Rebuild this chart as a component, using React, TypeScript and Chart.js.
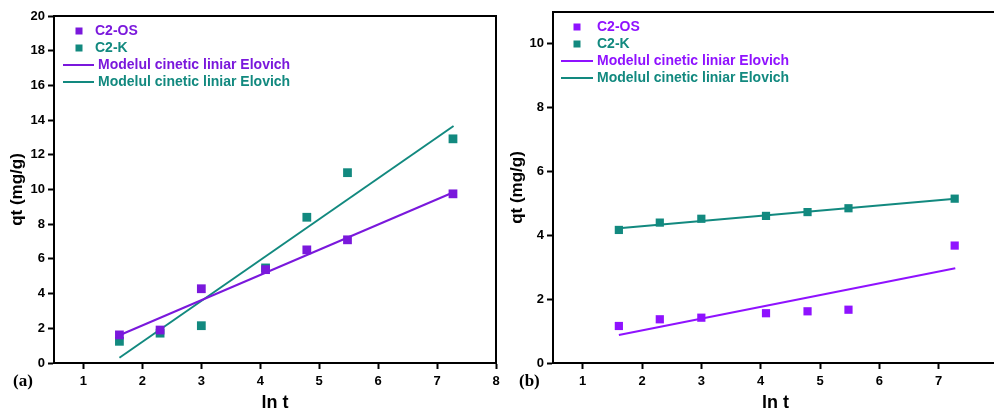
import React, { useEffect, useRef } from "react";
import { Chart, registerables } from "chart.js";

Chart.register(...registerables);

// ---------- data ----------
const lnT = [1.61, 2.3, 3.0, 4.09, 4.79, 5.48, 7.27];
const fitX = [1.61, 7.28];

const osA = [1.62, 1.9, 4.28, 5.38, 6.52, 7.1, 9.75];
const kA = [1.25, 1.72, 2.15, 5.48, 8.4, 10.97, 12.92];
const osFitA = [1.6, 9.84];
const kFitA = [0.3, 13.66];

const osB = [1.16, 1.37, 1.42, 1.56, 1.62, 1.67, 3.68];
const kB = [4.17, 4.4, 4.52, 4.61, 4.73, 4.85, 5.15];
const osFitB = [0.88, 2.97];
const kFitB = [4.22, 5.15];

const xTicks = [1, 2, 3, 4, 5, 6, 7, 8];
const yTicksA = [0, 2, 4, 6, 8, 10, 12, 14, 16, 18, 20];
const yTicksB = [0, 2, 4, 6, 8, 10];

const labelOS = "C2-OS";
const labelK = "C2-K";
const labelFit = "Modelul cinetic liniar Elovich";
const xTitle = "ln t";
const yTitle = "qt (mg/g)";

const TEAL = "#12897f";

const FONT = "'Liberation Sans', Arial, sans-serif";

const framePlugin = {
  id: "frame",
  afterDraw(chart: any) {
    const { ctx, chartArea } = chart;
    ctx.save();
    ctx.strokeStyle = "#000";
    ctx.lineWidth = 2;
    ctx.beginPath();
    ctx.moveTo(chartArea.left, chartArea.top);
    ctx.lineTo(chartArea.right, chartArea.top);
    ctx.lineTo(chartArea.right, chartArea.bottom);
    ctx.stroke();
    ctx.restore();
  },
};

const legendPlugin = {
  id: "elovLegend",
  afterDraw(chart: any, _args: any, opts: any) {
    const { ctx } = chart;
    const ds = chart.data.datasets;
    ctx.save();
    ctx.font = `bold ${opts.fontSize}px ${FONT}`;
    ctx.textBaseline = "middle";
    ds.forEach((d: any, i: number) => {
      const y = opts.y + i * opts.rowH;
      const color = d.borderColor;
      if (d.showLine) {
        ctx.strokeStyle = color;
        ctx.lineWidth = 2;
        ctx.beginPath();
        ctx.moveTo(opts.lineX0, y);
        ctx.lineTo(opts.lineX1, y);
        ctx.stroke();
        ctx.fillStyle = color;
        ctx.fillText(d.label, opts.lineText, y);
      } else {
        ctx.fillStyle = color;
        ctx.fillRect(opts.markX - 3.5, y - 3.5, 7, 7);
        ctx.fillText(d.label, opts.markText, y);
      }
    });
    ctx.restore();
  },
};

type PanelProps = {
  left: number;
  width: number;
  padTop: number;
  padRight: number;
  yAxisWidth: number;
  yMax: number;
  yTicks: number[];
  os: number[];
  k: number[];
  osFit: number[];
  kFit: number[];
  purple: string;
  pointR: number;
  legend: any;
};

function Panel(p: PanelProps) {
  const ref = useRef<HTMLCanvasElement | null>(null);
  useEffect(() => {
    if (!ref.current) return;
    const purple = p.purple;
    const pts = (ys: number[], xs: number[]) => xs.map((x, i) => ({ x, y: ys[i] }));
    const tickFont = { family: FONT, weight: "bold" as const, size: 13 };
    const chart = new Chart(ref.current, {
      type: "scatter",
      data: {
        datasets: [
          {
            label: labelOS,
            data: pts(p.os, lnT),
            borderColor: purple,
            backgroundColor: purple,
            pointStyle: "rect",
            pointRadius: p.pointR,
            pointBorderWidth: 0,
            showLine: false,
            order: 1,
          },
          {
            label: labelK,
            data: pts(p.k, lnT),
            borderColor: TEAL,
            backgroundColor: TEAL,
            pointStyle: "rect",
            pointRadius: p.pointR,
            pointBorderWidth: 0,
            showLine: false,
            order: 2,
          },
          {
            label: labelFit,
            data: pts(p.osFit, fitX),
            borderColor: purple,
            backgroundColor: purple,
            borderWidth: 2,
            pointRadius: 0,
            showLine: true,
            order: 3,
          },
          {
            label: labelFit,
            data: pts(p.kFit, fitX),
            borderColor: TEAL,
            backgroundColor: TEAL,
            borderWidth: 2,
            pointRadius: 0,
            showLine: true,
            order: 4,
          },
        ],
      },
      options: {
        animation: false,
        responsive: false,
        maintainAspectRatio: false,
        layout: { padding: { left: 0, right: p.padRight, top: p.padTop, bottom: 0 } },
        plugins: {
          legend: { display: false },
          tooltip: { enabled: false },
          elovLegend: p.legend,
        } as any,
        scales: {
          x: {
            type: "linear",
            min: 0.5,
            max: 8,
            afterBuildTicks: (s: any) => {
              s.ticks = xTicks.map((v) => ({ value: v }));
            },
            afterFit: (s: any) => {
              s.height = 46;
              s.paddingLeft = 0;
              s.paddingRight = 0;
            },
            grid: {
              drawOnChartArea: false,
              drawTicks: true,
              tickLength: 6,
              tickWidth: 2,
              tickColor: "#000",
            },
            border: { display: true, color: "#000", width: 2 },
            ticks: { color: "#000", font: tickFont, padding: 5, maxRotation: 0, autoSkip: false },
            title: {
              display: true,
              text: xTitle,
              color: "#000",
              font: { family: FONT, weight: "bold", size: 18 },
              padding: { top: 0, bottom: -5 },
            },
          },
          y: {
            type: "linear",
            min: 0,
            max: p.yMax,
            afterBuildTicks: (s: any) => {
              s.ticks = p.yTicks.map((v) => ({ value: v }));
            },
            afterFit: (s: any) => {
              s.width = p.yAxisWidth;
              s.paddingTop = 0;
              s.paddingBottom = 0;
            },
            grid: {
              drawOnChartArea: false,
              drawTicks: true,
              tickLength: 6,
              tickWidth: 2,
              tickColor: "#000",
            },
            border: { display: true, color: "#000", width: 2 },
            ticks: { color: "#000", font: tickFont, padding: 3, autoSkip: false },
            title: {
              display: true,
              text: yTitle,
              color: "#000",
              font: { family: FONT, weight: "bold", size: 17 },
              padding: { top: 7, bottom: 0 },
            },
          },
        },
      },
      plugins: [framePlugin, legendPlugin],
    });
    return () => chart.destroy();
  }, []);
  return (
    <canvas
      ref={ref}
      width={p.width}
      height={409}
      style={{ position: "absolute", left: p.left, top: 0, width: p.width, height: 409 }}
    />
  );
}

export default function App() {
  const lblStyle: React.CSSProperties = {
    position: "absolute",
    top: 371,
    fontFamily: "'Liberation Serif', 'DejaVu Serif', serif",
    fontWeight: "bold",
    fontSize: 17,
    lineHeight: "20px",
    color: "#000",
  };
  return (
    <div
      style={{
        position: "fixed",
        left: 0,
        top: 0,
        width: 994,
        height: 409,
        overflow: "hidden",
        background: "#fff",
      }}
    >
      <Panel
        left={0}
        width={503}
        padTop={16}
        padRight={7}
        yAxisWidth={54}
        yMax={20}
        yTicks={yTicksA}
        os={osA}
        k={kA}
        osFit={osFitA}
        kFit={kFitA}
        purple="#7a18dc"
        pointR={6.2}
        legend={{ y: 31, rowH: 17, markX: 79, markText: 95, lineX0: 63, lineX1: 94, lineText: 98, fontSize: 14 }}
      />
      <Panel
        left={500}
        width={504}
        padTop={12}
        padRight={6}
        yAxisWidth={53}
        yMax={11}
        yTicks={yTicksB}
        os={osB}
        k={kB}
        osFit={osFitB}
        kFit={kFitB}
        purple="#8f12ff"
        pointR={5.8}
        legend={{ y: 27, rowH: 17, markX: 77, markText: 97, lineX0: 61, lineX1: 93, lineText: 97, fontSize: 14 }}
      />
      <div style={{ ...lblStyle, left: 13 }}>(a)</div>
      <div style={{ ...lblStyle, left: 519 }}>(b)</div>
    </div>
  );
}
